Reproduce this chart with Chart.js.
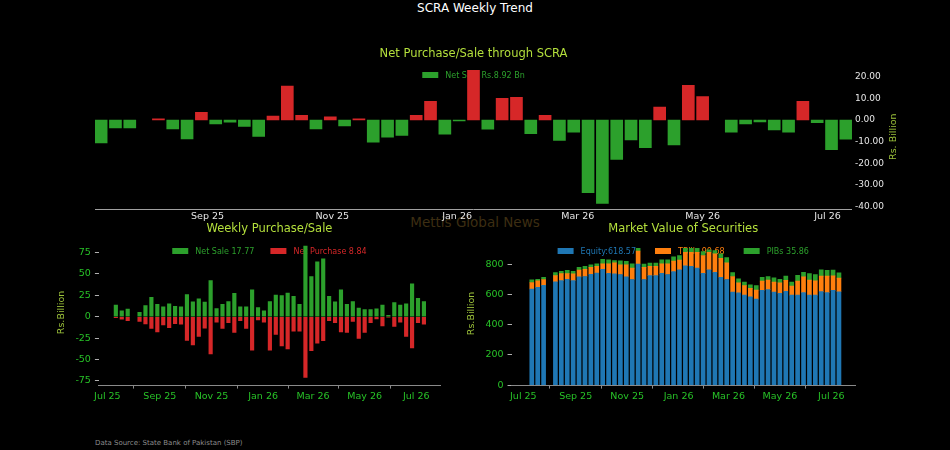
<!DOCTYPE html>
<html>
<head>
<meta charset="utf-8">
<title>SCRA Weekly Trend</title>
<script src="https://cdn.jsdelivr.net/npm/chart.js@4.4.1/dist/chart.umd.min.js"></script>
<style>
  html, body { margin: 0; padding: 0; background: #000; }
  #wrap { position: relative; width: 950px; height: 450px; overflow: hidden; font-family: 'DejaVu Sans', sans-serif; }
  .txt { position: absolute; white-space: nowrap; }
  #mainTitle { left: 0; width: 950px; top: 1px; text-align: center; color: #fff; font-size: 12px; }
  #mark { left: 0; width: 950px; top: 214px; text-align: center; color: #3d2e12; font-size: 13.5px; }
  #source { left: 95px; top: 439px; color: #8c8c8c; font-size: 7px; }
  canvas { position: absolute; }
  #scra { left: 0; top: 0; z-index: 3; }
  #flow { left: 0; top: 215px; z-index: 2; }
  #value { left: 460px; top: 215px; z-index: 2; }
</style>
</head>
<body>
<div id="wrap">
  <div id="mainTitle" class="txt">SCRA Weekly Trend</div>
  <div id="mark" class="txt">Mettis Global News</div>
  <canvas id="flow" width="460" height="235"></canvas>
  <canvas id="value" width="490" height="235"></canvas>
  <canvas id="scra" width="950" height="226"></canvas>
  <div id="source" class="txt">Data Source: State Bank of Pakistan (SBP)</div>
</div>
<script>
// week ending dates (one bar per week, 2025-08-01 has no data)
const weeks = [
  '2025-07-11', '2025-07-18', '2025-07-25', '2025-08-01', '2025-08-08', '2025-08-15', '2025-08-22', '2025-08-29',
  '2025-09-05', '2025-09-12', '2025-09-19', '2025-09-26', '2025-10-03', '2025-10-10', '2025-10-17', '2025-10-24',
  '2025-10-31', '2025-11-07', '2025-11-14', '2025-11-21', '2025-11-28', '2025-12-05', '2025-12-12', '2025-12-19',
  '2025-12-26', '2026-01-02', '2026-01-09', '2026-01-16', '2026-01-23', '2026-01-30', '2026-02-06', '2026-02-13',
  '2026-02-20', '2026-02-27', '2026-03-06', '2026-03-13', '2026-03-20', '2026-03-27', '2026-04-03', '2026-04-10',
  '2026-04-17', '2026-04-24', '2026-05-01', '2026-05-08', '2026-05-15', '2026-05-22', '2026-05-29', '2026-06-05',
  '2026-06-12', '2026-06-19', '2026-06-26', '2026-07-03', '2026-07-10'
];
const monthTicks = ['2025-07-01', '2025-09-01', '2025-11-01', '2026-01-01', '2026-03-01', '2026-05-01', '2026-07-01'];
const monthLabels = ['Jul 25', 'Sep 25', 'Nov 25', 'Jan 26', 'Mar 26', 'May 26', 'Jul 26'];

// net purchase (+) / net sale (-) through SCRA, Rs. billion
const scraNet = [
  -10.6, -3.7, -3.7, null, 0.5, -4.1, -8.8, 3.5, -1.8, -1.0, -3.0, -7.6, 1.8, 15.7, 2.2, -4.2,
  1.5, -2.8, 0.5, -10.3, -8.0, -7.1, 2.2, 8.6, -6.6, -0.5, 23.0, -4.3, 10.0, 10.5, -6.3, 2.2,
  -9.5, -5.7, -33.7, -38.6, -18.3, -9.2, -12.8, 6.0, -11.5, 16.0, 10.8, null, -5.7, -1.8, -0.9, -4.6,
  -5.7, 8.6, -1.2, -13.7, -8.92
];
const scraTicks = [-40, -30, -20, -10, 0, 10, 20];

// weekly gross flows
const netSale = [
  13.5, 7, 9, null, 5, 13, 22.7, 14.6, 11.5, 15, 12.3, 11.5, 26, 17.3, 21, 17,
  42.3, 9.6, 14.6, 17.7, 27.3, 11.5, 11.5, 31.5, 10.8, 7, 17.7, 25.4, 24.6, 27.7, 23.8, 14.6,
  82.7, 47, 64.2, 67.7, 23.8, 17.3, 31.5, 14.6, 17.7, 10, 8.5, 8.5, 9.2, 13.5, 1.5, 16.5,
  13.5, 15, 38.5, 21.5, 17.77
];
const netPurchase = [
  -1.2, -3, -4.6, null, -5.4, -8.5, -13.8, -17.7, -9.6, -12.7, -8, -8.8, -27.7, -33, -23, -13.5,
  -43.5, -6.5, -13.8, -7, -18.5, -4.6, -13.8, -39.2, -3.8, -6.5, -39.2, -20.8, -34.2, -37.7, -17, -17,
  -71, -39.6, -30.8, -28, -4.6, -7, -17.7, -18.5, -5.4, -25.4, -18.5, -7, -2.7, -10.8, -0.3, -11.2,
  -6.5, -23, -36.5, -7, -8.84
];
const flowTicks = [-75, -50, -25, 0, 25, 50, 75];

// market value of securities, Rs. billion
const equity = [
  637, 648, 661, null, 685, 693, 702, 693, 717, 720, 735, 743, 767, 741, 737, 733,
  717, 700, 802, 700, 726, 726, 741, 733, 752, 765, 791, 787, 776, 741, 765, 748,
  715, 700, 617, 611, 596, 585, 570, 628, 633, 617, 609, 622, 596, 596, 613, 596,
  596, 620, 613, 628, 618.57
];
const tbills = [
  43, 43, 39, null, 41, 46, 37, 44, 46, 47, 45, 44, 37, 63, 74, 65,
  81, 76, 87, 80, 61, 61, 63, 71, 70, 63, 89, 93, 104, 118, 115, 122,
  126, 111, 103, 67, 63, 56, 60, 61, 63, 66, 69, 72, 61, 93, 104, 100,
  95, 102, 109, 96, 90.68
];
const pibs = [
  18, 11, 15, null, 20, 15, 22, 17, 17, 20, 18, 17, 29, 26, 15, 26,
  22, 28, 17, 22, 22, 22, 26, 26, 28, 31, 26, 26, 26, 26, 16, 21,
  29, 35, 26, 26, 24, 24, 29, 26, 24, 28, 24, 28, 26, 39, 31, 43,
  42, 43, 39, 39, 35.86
];
const valueTicks = [0, 200, 400, 600, 800];

const GREEN = '#2ca02c', RED = '#d62728', BLUE = '#1f77b4', ORANGE = '#ff7f0e';
const TICK_GREEN = '#27c227';
const TITLE_COLOR = '#b4e03c';
const AXIS_TITLE = '#9cc23a';
const AXIS_GREY = '#8a8a8a';

Chart.defaults.font.family = "'DejaVu Sans', sans-serif";
Chart.defaults.animation = false;
Chart.defaults.plugins.tooltip.enabled = false;
Chart.defaults.plugins.legend.display = false;

const dayOf = s => Date.parse(s) / 86400000;
const points = vals => weeks.map((w, i) => ({ x: dayOf(w), y: vals[i] }));

function monthAxis(scale) {
  scale.ticks = monthTicks.map(dayOf)
    .filter(v => v >= scale.min && v <= scale.max)
    .map(v => ({ value: v }));
}
const monthLabel = v => monthLabels[monthTicks.map(dayOf).indexOf(v)];

// one-row legend drawn inside the plot, under the bars
const inlineLegend = {
  id: 'inlineLegend',
  beforeDatasetsDraw(chart, args, opts) {
    const { ctx, chartArea } = chart;
    const items = opts.items || chart.data.datasets.map(d => ({ text: d.label, color: d.backgroundColor }));
    ctx.save();
    ctx.font = "8px 'DejaVu Sans'";
    ctx.textBaseline = 'middle';
    ctx.textAlign = 'left';
    const widths = items.map(it => 16 + opts.boxGap + ctx.measureText(it.text).width);
    const total = widths.reduce((a, b) => a + b, 0) + opts.gap * (items.length - 1);
    let x = (chartArea.left + chartArea.right) / 2 - total / 2;
    items.forEach((it, i) => {
      ctx.fillStyle = it.color;
      ctx.fillRect(x, opts.y - 3, 16, 6);
      ctx.fillText(it.text, x + 16 + opts.boxGap, opts.y + 0.5);
      x += widths[i] + opts.gap;
    });
    ctx.restore();
  }
};

// right axis title reading bottom to top
const rightTitle = {
  id: 'rightTitle',
  afterDraw(chart, args, opts) {
    const { ctx, chartArea } = chart;
    ctx.save();
    ctx.translate(chartArea.right + opts.offset, (chartArea.top + chartArea.bottom) / 2);
    ctx.rotate(-Math.PI / 2);
    ctx.fillStyle = opts.color;
    ctx.font = "9.5px 'DejaVu Sans'";
    ctx.textAlign = 'center';
    ctx.textBaseline = 'middle';
    ctx.fillText(opts.text, 0, 0);
    ctx.restore();
  }
};

function xAxis(min, max, color, withTicks) {
  return {
    type: 'linear', offset: false, min: dayOf(min), max: dayOf(max),
    afterBuildTicks: monthAxis,
    ticks: { callback: monthLabel, color: color, font: { size: 9.5 }, padding: withTicks ? 2 : 1, autoSkip: false, maxRotation: 0 },
    grid: withTicks ? { drawOnChartArea: false, tickLength: 3.5, color: AXIS_GREY } : { display: false, drawTicks: false },
    border: { color: withTicks ? AXIS_GREY : '#a0a0a0' }
  };
}

function yAxis(min, max, tickList) {
  return {
    min: min, max: max,
    afterBuildTicks: s => { s.ticks = tickList.map(v => ({ value: v })); },
    ticks: { color: TICK_GREEN, font: { size: 9.5 }, padding: 4 },
    grid: { drawOnChartArea: false, tickLength: 4, color: '#b0b0b0' },
    border: { display: false },
    title: { display: true, text: 'Rs.Billion', color: AXIS_TITLE, font: { size: 9.5 }, padding: { top: 4, bottom: 4 } }
  };
}

const barStyle = (w) => ({ grouped: false, barPercentage: 1, categoryPercentage: 1, maxBarThickness: w });
const lastSale = scraNet[scraNet.length - 1];

// top: net purchase / sale
new Chart(document.getElementById('scra'), {
  type: 'bar',
  data: {
    datasets: [{
      label: 'Net Sale Rs.' + Math.abs(lastSale).toFixed(2) + ' Bn',
      data: points(scraNet),
      backgroundColor: c => (c.parsed && c.parsed.y > 0 ? RED : GREEN)
    }]
  },
  options: {
    responsive: false,
    datasets: { bar: barStyle(12) },
    layout: { padding: { left: 95, right: 63, top: 47, bottom: 3 } },
    plugins: {
      title: { display: true, fullSize: false, text: 'Net Purchase/Sale through SCRA', color: TITLE_COLOR, font: { size: 11.5, weight: 'normal' }, padding: { top: 0, bottom: 3 } },
      inlineLegend: { y: 75, gap: 17, boxGap: 7, items: [{ text: 'Net Sale Rs.' + Math.abs(lastSale).toFixed(2) + ' Bn', color: GREEN }] },
      rightTitle: { text: 'Rs. Billion', color: AXIS_TITLE, offset: 42 }
    },
    scales: {
      x: xAxis('2025-07-08', '2026-07-13', '#e6e6e6', false),
      y: {
        position: 'right', min: -41.5, max: 26,
        afterBuildTicks: s => { s.ticks = scraTicks.map(v => ({ value: v })); },
        ticks: { callback: v => v.toFixed(2), color: '#e6e6e6', font: { size: 9 }, padding: 3 },
        grid: { display: false, drawTicks: false },
        border: { display: false }
      }
    }
  },
  plugins: [inlineLegend, rightTitle]
});

// bottom left: weekly purchase / sale
new Chart(document.getElementById('flow'), {
  type: 'bar',
  data: {
    datasets: [
      { label: 'Net Sale ' + netSale[netSale.length - 1].toFixed(2), data: points(netSale), backgroundColor: GREEN },
      { label: 'Net Purchase ' + Math.abs(netPurchase[netPurchase.length - 1]).toFixed(2), data: points(netPurchase), backgroundColor: RED }
    ]
  },
  options: {
    responsive: false,
    datasets: { bar: barStyle(3.5) },
    layout: { padding: { left: 52, right: 20, top: 7, bottom: 46 } },
    plugins: {
      title: { display: true, fullSize: false, text: 'Weekly Purchase/Sale', color: TITLE_COLOR, font: { size: 11.5, weight: 'normal' }, padding: { top: 0, bottom: 4 } },
      inlineLegend: { y: 36, gap: 16, boxGap: 7 }
    },
    scales: {
      x: xAxis('2025-06-21', '2026-07-29', TICK_GREEN, true),
      y: yAxis(-80, 90, flowTicks)
    }
  },
  plugins: [inlineLegend]
});

// bottom right: market value of securities
new Chart(document.getElementById('value'), {
  type: 'bar',
  data: {
    datasets: [
      { label: 'Equity:' + equity[equity.length - 1].toFixed(2), data: points(equity), backgroundColor: BLUE },
      { label: 'TBills ' + tbills[tbills.length - 1].toFixed(2), data: points(tbills), backgroundColor: ORANGE },
      { label: 'PIBs ' + pibs[pibs.length - 1].toFixed(2), data: points(pibs), backgroundColor: GREEN }
    ]
  },
  options: {
    responsive: false,
    datasets: { bar: barStyle(4) },
    layout: { padding: { left: 2, right: 95, top: 7, bottom: 46 } },
    plugins: {
      title: { display: true, fullSize: false, text: 'Market Value of Securities', color: TITLE_COLOR, font: { size: 11.5, weight: 'normal' }, padding: { top: 0, bottom: 6 } },
      inlineLegend: { y: 36, gap: 19, boxGap: 7 }
    },
    scales: {
      x: xAxis('2025-06-17', '2026-07-29', TICK_GREEN, true),
      y: Object.assign(yAxis(0, 950, valueTicks), { stacked: true })
    }
  },
  plugins: [inlineLegend]
});
</script>
</body>
</html>
